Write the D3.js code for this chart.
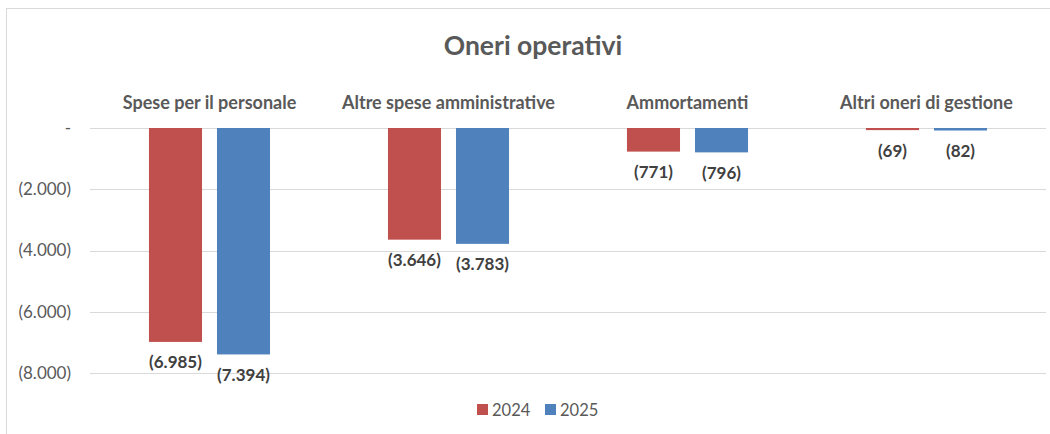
<!DOCTYPE html>
<html>
<head>
<meta charset="utf-8">
<script src="https://cdn.jsdelivr.net/npm/d3@7"></script>
<style>
  html, body { margin: 0; padding: 0; background: #fff; }
  svg { display: block; font-family: Lato, "Open Sans", sans-serif; }
</style>
</head>
<body>
<svg id="chart" width="1050" height="434"></svg>
<script>
// Operating costs by category, two years (thousands, negative values)
const categories = ["Spese per il personale", "Altre spese amministrative", "Ammortamenti", "Altri oneri di gestione"];
const years = ["2024", "2025"];
const values2024 = [-6985, -3646, -771, -69];
const values2025 = [-7394, -3783, -796, -82];
const yTicks = [0, -2000, -4000, -6000, -8000];
const colors = ["#C0504D", "#4F81BD"];
const title = "Oneri operativi";

const svg = d3.select("#chart");
const W = 1050, H = 434;
const margin = { left: 90, right: 4, top: 128, bottom: 61 };

// chart frame
svg.append("rect")
  .attr("x", 6.5).attr("y", 8.5)
  .attr("width", W + 10).attr("height", H + 10)
  .attr("fill", "#fff").attr("stroke", "#D9D9D9").attr("stroke-width", 1);

const x0 = d3.scaleBand().domain(categories).range([margin.left, W - margin.right]).paddingInner(0).paddingOuter(0);
const x1 = d3.scaleBand().domain(years).range([0, x0.bandwidth()]).paddingInner(0.22).paddingOuter(0.867);
const y = d3.scaleLinear().domain([0, -8000]).range([margin.top, H - margin.bottom]);

const fmt = v => {
  if (v === 0) return "-";
  const s = d3.format(",")(Math.abs(v)).replace(/,/g, ".");
  return v < 0 ? "(" + s + ")" : s;
};

// gridlines
svg.append("g").selectAll("line").data(yTicks).join("line")
  .attr("x1", margin.left).attr("x2", W - margin.right)
  .attr("y1", d => Math.round(y(d)) + 0.5).attr("y2", d => Math.round(y(d)) + 0.5)
  .attr("stroke", "#D9D9D9").attr("stroke-width", 1);

// y axis labels
const yAxis = d3.axisLeft(y).tickValues(yTicks).tickFormat(fmt).tickSize(0).tickPadding(0);
const ya = svg.append("g").attr("transform", `translate(${margin.left - 19},0)`).call(yAxis);
ya.select(".domain").remove();
ya.selectAll("text").attr("fill", "#595959").style("font-size", "17px").style("font-family", "Lato, sans-serif");

// title
svg.append("text").attr("x", 533).attr("y", 45).attr("text-anchor", "middle")
  .attr("dominant-baseline", "central")
  .attr("fill", "#595959").style("font-size", "26.5px").style("font-weight", "bold").text(title);

// category labels
svg.append("g").selectAll("text").data(categories).join("text")
  .attr("x", d => x0(d) + x0.bandwidth() / 2).attr("y", 102)
  .attr("text-anchor", "middle").attr("dominant-baseline", "central")
  .attr("fill", "#595959").style("font-size", "18px").style("font-weight", "bold").text(d => d);

// bars
const rows = categories.map((c, i) => ({ c, vals: [values2024[i], values2025[i]] }));
const groups = svg.append("g").selectAll("g").data(rows).join("g")
  .attr("transform", d => `translate(${x0(d.c)},0)`);

groups.selectAll("rect").data(d => d.vals.map((v, j) => ({ v, year: years[j], j }))).join("rect")
  .attr("x", d => x1(d.year)).attr("width", x1.bandwidth())
  .attr("y", y(0)).attr("height", d => y(d.v) - y(0))
  .attr("fill", d => colors[d.j]);

// value labels
groups.selectAll("text").data(d => d.vals.map((v, j) => ({ v, year: years[j], j }))).join("text")
  .attr("x", d => x1(d.year) + x1.bandwidth() / 2)
  .attr("y", d => y(d.v) + 20)
  .attr("text-anchor", "middle").attr("dominant-baseline", "central")
  .attr("fill", "#404040").style("font-size", "17px").style("font-weight", "bold")
  .text(d => fmt(d.v));

// legend
const legend = svg.append("g");
const legendItems = [{ k: years[0], x: 477 }, { k: years[1], x: 545 }];
legendItems.forEach((it, i) => {
  legend.append("rect").attr("x", it.x).attr("y", 404).attr("width", 11).attr("height", 11).attr("fill", colors[i]);
  legend.append("text").attr("x", it.x + 15).attr("y", 410).attr("dominant-baseline", "central")
    .attr("fill", "#595959").style("font-size", "16.5px").text(it.k);
});
</script>
</body>
</html>
